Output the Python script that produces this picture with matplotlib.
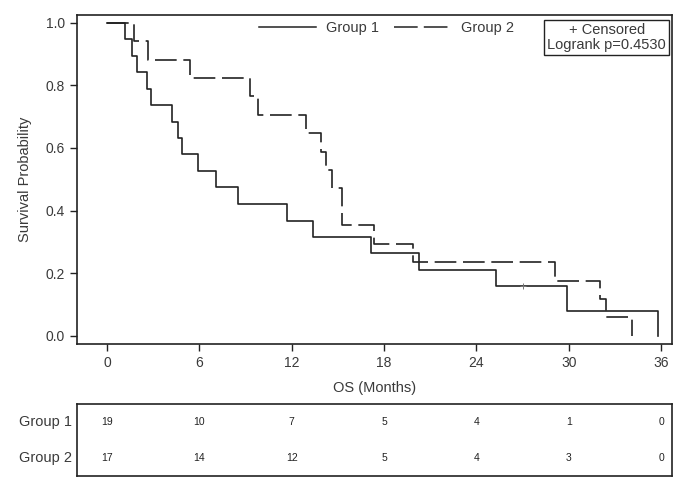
import matplotlib.pyplot as plt
from matplotlib.lines import Line2D

plt.rcParams['font.family'] = ['Liberation Sans', 'DejaVu Sans']

# Kaplan-Meier steps
g1_times = [0, 1.2, 1.6, 1.93, 2.6, 2.86, 4.2, 4.63, 4.85, 5.9, 7.1, 8.53,
            11.7, 13.37, 17.15, 20.27, 25.3, 29.9, 35.8]
g1_surv = [1.0, 0.947, 0.895, 0.842, 0.789, 0.737, 0.684, 0.632, 0.579, 0.526,
           0.474, 0.421, 0.368, 0.316, 0.263, 0.211, 0.158, 0.079, 0.0]

g2_times = [0, 1.78, 2.64, 5.4, 9.3, 9.8, 12.9, 13.9, 14.2, 14.6, 15.3,
            17.35, 19.9, 29.1, 32.0, 32.4, 34.1]
g2_surv = [1.0, 0.941, 0.882, 0.824, 0.765, 0.706, 0.647, 0.588, 0.529, 0.471,
           0.353, 0.294, 0.235, 0.176, 0.118, 0.059, 0.0]

g1_censor_t = [27.0]
g1_censor_s = [0.158]

risk_times = [0, 6, 12, 18, 24, 30, 36]
g1_risk = [19, 10, 7, 5, 4, 1, 0]
g2_risk = [17, 14, 12, 5, 4, 3, 0]

groups = ['Group 1', 'Group 2']
pvalue = 0.4530

line_col = '#222222'
text_col = '#3a3a3a'

fig = plt.figure(figsize=(6.87, 4.92), dpi=100)
ax = fig.add_axes([77/687, 1 - 344/492, 595/687, 329/492])

ax.step(g1_times, g1_surv, where='post', color=line_col, lw=1.2)
ax.step(g2_times, g2_surv, where='post', color=line_col, lw=1.2, dashes=(13, 4))
ax.plot(g1_censor_t, g1_censor_s, '+', color='#777777', ms=5, mew=0.7)

ax.set_xlim(-1.95, 36.71)
ax.set_ylim(-0.0265, 1.0246)
ax.set_xticks(risk_times)
ax.set_yticks([0.0, 0.2, 0.4, 0.6, 0.8, 1.0])
ax.set_yticklabels(['0.0', '0.2', '0.4', '0.6', '0.8', '1.0'])
ax.tick_params(direction='out', length=5, width=1, color=line_col,
               labelsize=10, labelcolor=text_col, pad=3.5)
for s in ax.spines.values():
    s.set_linewidth(1.2)
    s.set_color(line_col)
ax.set_xlabel('OS (Months)', fontsize=10.5, color=text_col, labelpad=8)
ax.set_ylabel('Survival Probability', fontsize=10.5, color=text_col, labelpad=10)

handles = [Line2D([], [], color=line_col, lw=1.1),
           Line2D([], [], color=line_col, lw=1.1, dashes=(15.5, 4))]
ax.legend(handles, groups, ncol=2, frameon=False, loc='center',
          bbox_to_anchor=(0.52, 0.96), handlelength=3.9, handletextpad=0.7,
          columnspacing=1.0, fontsize=10.5, labelcolor=text_col)

ax.text(0.99, 0.977, '+ Censored\nLogrank p=%.4f' % pvalue, transform=ax.transAxes,
        ha='right', va='top', multialignment='center', fontsize=10.5,
        color=text_col, linespacing=1.15,
        bbox=dict(boxstyle='square,pad=0.2', fc='white', ec=line_col, lw=1.0))

# number at risk table
tab = fig.add_axes([77/687, 1 - 476/492, 595/687, 72/492])
tab.set_xlim(-1.95, 36.71)
tab.set_ylim(0, 1)
for x, a, b in zip(risk_times, g1_risk, g2_risk):
    tab.text(x, 0.75, str(a), ha='center', va='center', fontsize=7.5, color=line_col)
    tab.text(x, 0.25, str(b), ha='center', va='center', fontsize=7.5, color=line_col)
tab.text(-2.3, 0.75, groups[0], ha='right', va='center', fontsize=10.5, color=text_col)
tab.text(-2.3, 0.25, groups[1], ha='right', va='center', fontsize=10.5, color=text_col)
tab.set_xticks([])
tab.set_yticks([])
for s in tab.spines.values():
    s.set_linewidth(1.2)
    s.set_color(line_col)

plt.savefig('out.png', dpi=100)
